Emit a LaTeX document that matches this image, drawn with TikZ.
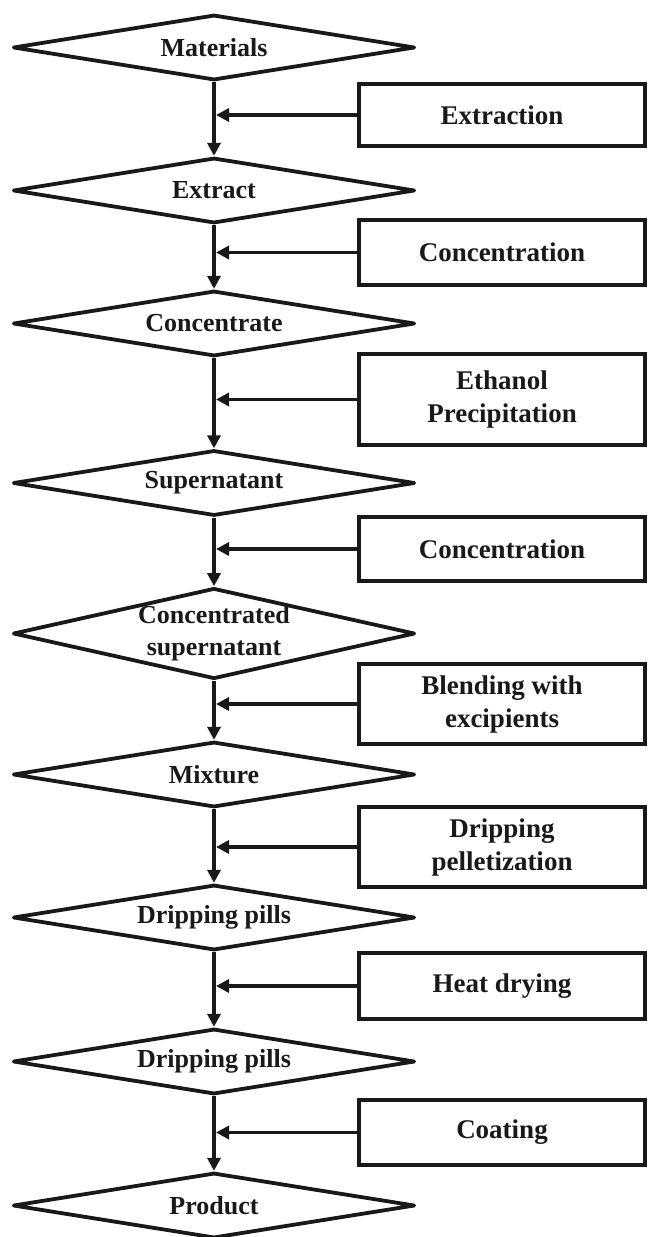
\documentclass[tikz,border=0pt]{standalone}
\usepackage{fontspec}
\setmainfont{Liberation Serif}
\usetikzlibrary{shapes.geometric,arrows.meta}
\begin{document}
\begin{tikzpicture}[x=1pt,y=-1pt,
  dia/.style={draw=black!90, line width=3.8pt, line join=round, shape=diamond, aspect=4.3,
    inner sep=0pt, minimum width=402pt, minimum height=65.5pt,
    font=\fontsize{26}{32}\selectfont\bfseries, align=center, text=black!90},
  stepbox/.style={draw=black!90, line width=3.8pt, rectangle, inner sep=0pt,
    minimum width=286pt, font=\fontsize{27}{33}\selectfont\bfseries, align=center, text=black!90},
  flow/.style={draw=black!90, line width=3.8pt, -{Triangle[length=13pt,width=13pt]}},
]
\useasboundingbox (0,0) rectangle (648,1237);
\fill[white] (0,0) rectangle (648,1237);

\node[dia] (d1) at (214,47.5) {Materials};
\node[dia] (d2) at (214,190.5) {Extract};
\node[dia] (d3) at (214,323.5) {Concentrate};
\node[dia] (d4) at (214,483) {Supernatant};
\node[dia, minimum height=89.5pt] (d5) at (214,633.5) {Concentrated\\supernatant};
\node[dia] (d6) at (214,774.5) {Mixture};
\node[dia] (d7) at (214,917.5) {Dripping pills};
\node[dia] (d8) at (214,1061.5) {Dripping pills};
\node[dia] (d9) at (214,1205.5) {Product};

\node[stepbox, minimum height=62pt] (b1) at (502,115) {Extraction};
\node[stepbox, minimum height=65pt] (b2) at (502,252.5) {Concentration};
\node[stepbox, minimum height=91pt] (b3) at (502,399.5) {Ethanol\\Precipitation};
\node[stepbox, minimum height=64pt] (b4) at (502,549) {Concentration};
\node[stepbox, minimum height=80pt] (b5) at (502,704) {Blending with\\excipients};
\node[stepbox, minimum height=80pt] (b6) at (502,847) {Dripping\\pelletization};
\node[stepbox, minimum height=66pt] (b7) at (502,986) {Heat drying};
\node[stepbox, minimum height=65pt] (b8) at (502,1132.5) {Coating};

\foreach \a/\b in {d1/d2,d2/d3,d3/d4,d4/d5,d5/d6,d6/d7,d7/d8,d8/d9}
  \draw[flow] (\a.south) -- (\b.north);

\foreach \bx/\dd in {b1/d1,b2/d2,b3/d3,b4/d4,b5/d5,b6/d6,b7/d7,b8/d8}
  \draw[flow] (\bx.west) -- ([xshift=2pt]\dd.south |- \bx.west);
\end{tikzpicture}
\end{document}
